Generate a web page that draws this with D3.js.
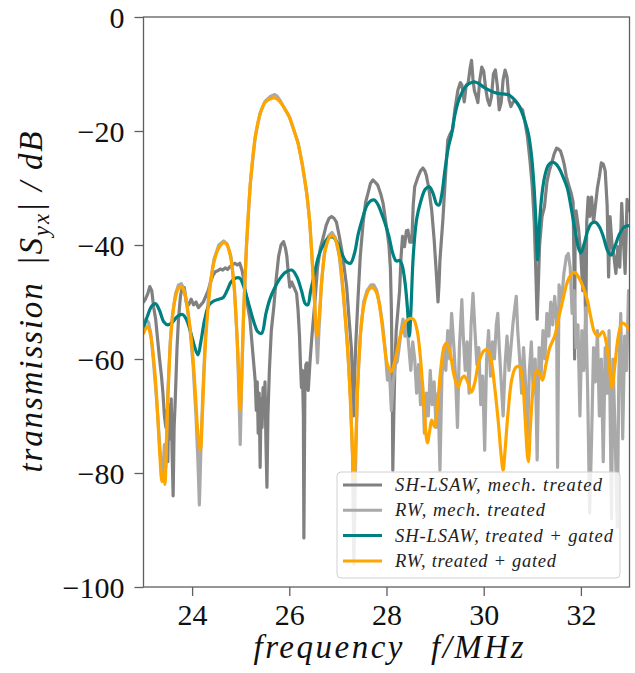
<!DOCTYPE html>
<html>
<head>
<meta charset="utf-8">
<script src="https://cdn.jsdelivr.net/npm/d3@7"></script>
<style>
  body { margin: 0; background: #fff; }
  svg { display: block; }
</style>
</head>
<body>
<svg id="chart" width="635" height="673"></svg>
<script>
// Axis ticks (frequency in MHz, transmission in dB)
const xTicks = [24, 26, 28, 30, 32];
const yTicks = [0, -20, -40, -60, -80, -100];
const legendLabels = [
  "SH-LSAW, mech. treated",
  "RW, mech. treated",
  "SH-LSAW, treated + gated",
  "RW, treated + gated"
];

// SH-LSAW, mechanically treated (measured) — [f, dB]
const shMech = [
  [23.00,-50],[23.04,-49.5],[23.09,-48.5],[23.13,-47.3],[23.17,-48],[23.21,-51],[23.25,-53],[23.29,-56.5],
  [23.33,-60],[23.37,-63],[23.40,-66],[23.43,-70],[23.46,-72],[23.48,-69],[23.50,-78],[23.52,-68],
  [23.55,-74],[23.57,-67],[23.59,-77],[23.61,-84],[23.63,-72],[23.65,-68],[23.67,-63],[23.69,-58],
  [23.72,-53],[23.76,-49],[23.80,-47.3],[23.84,-47.5],[23.88,-50],[23.93,-50.5],[23.98,-49.5],[24.03,-50.5],
  [24.08,-50],[24.13,-51],[24.18,-50.5],[24.23,-50],[24.28,-49],[24.33,-48],[24.38,-46.5],[24.43,-45.3],
  [24.48,-44.7],[24.53,-44.5],[24.58,-44.2],[24.63,-44.4],[24.68,-44],[24.73,-44.3],[24.78,-43.8],[24.83,-43.5],
  [24.88,-43.2],[24.93,-43.5],[24.98,-43.2],[25.03,-44.5],[25.07,-46.5],[25.11,-49],[25.15,-51],[25.19,-53],
  [25.23,-57],[25.27,-61],[25.30,-64],[25.32,-69],[25.34,-64],[25.36,-73],[25.38,-66],[25.40,-79],
  [25.42,-67],[25.44,-72],[25.46,-65],[25.48,-70],[25.50,-64],[25.52,-75],[25.54,-82.5],[25.56,-70],
  [25.59,-62],[25.63,-55],[25.68,-51],[25.73,-46],[25.78,-42],[25.83,-40],[25.88,-39.4],[25.92,-40.5],
  [25.95,-42],[25.98,-45],[26.01,-47.4],[26.05,-46.5],[26.10,-47.5],[26.15,-48.5],[26.18,-51.4],[26.21,-56],
  [26.23,-61],[26.25,-65],[26.27,-62],[26.29,-70],[26.30,-91.4],[26.32,-66],[26.34,-61],[26.36,-60.7],
  [26.39,-65.5],[26.43,-60],[26.47,-55.5],[26.53,-49.6],[26.58,-44],[26.64,-40.5],[26.70,-38.6],[26.76,-36.5],
  [26.82,-35.3],[26.87,-35],[26.92,-35.3],[26.97,-36],[27.03,-38.5],[27.08,-40.9],[27.13,-44],[27.18,-47.3],
  [27.23,-53],[27.28,-58.4],[27.30,-63.7],[27.32,-70],[27.34,-64],[27.37,-57],[27.41,-50],[27.46,-42],
  [27.52,-36],[27.57,-32.5],[27.62,-30.9],[27.67,-29.2],[27.72,-28.6],[27.77,-29],[27.82,-29.5],[27.88,-31],
  [27.93,-32.7],[28.00,-36.8],[28.05,-40],[28.08,-44],[28.10,-51],[28.12,-66],[28.13,-79.5],[28.15,-70],
  [28.17,-62],[28.20,-55],[28.24,-51],[28.27,-48],[28.30,-42],[28.33,-38.5],[28.37,-40.3],[28.41,-37.5],
  [28.44,-37.4],[28.48,-39.5],[28.52,-39.5],[28.55,-33],[28.58,-29.8],[28.65,-28],[28.70,-27],[28.75,-26.5],
  [28.79,-27],[28.82,-27.8],[28.87,-30],[28.93,-33.9],[28.98,-39],[29.03,-45.6],[29.06,-50],[29.08,-47],
  [29.10,-42.6],[29.16,-35.6],[29.22,-27],[29.26,-21.6],[29.31,-20.5],[29.36,-19.8],[29.41,-16],[29.47,-12.8],
  [29.52,-11.5],[29.55,-11.9],[29.60,-14.9],[29.64,-12],[29.68,-11.6],[29.72,-9],[29.75,-7.6],[29.78,-11],
  [29.81,-13],[29.85,-14],[29.88,-15],[29.92,-11],[29.96,-8.8],[30.00,-9.5],[30.04,-12.5],[30.08,-14.5],
  [30.12,-15.5],[30.16,-14],[30.20,-10],[30.24,-9.3],[30.28,-12],[30.32,-16.3],[30.36,-15],[30.40,-11],
  [30.44,-9.3],[30.48,-10.5],[30.52,-14.5],[30.56,-15.7],[30.60,-15],[30.64,-14.6],[30.68,-15],[30.72,-15.5],
  [30.76,-16],[30.80,-16.3],[30.85,-18.5],[30.90,-21],[30.95,-25],[31.00,-29.8],[31.04,-36],[31.07,-43.9],
  [31.10,-53],[31.12,-48],[31.15,-40],[31.20,-35],[31.25,-33.3],[31.30,-29],[31.35,-27],[31.40,-25.6],
  [31.45,-24],[31.50,-23],[31.54,-23.2],[31.58,-23.5],[31.62,-24.6],[31.66,-26],[31.70,-28],[31.75,-29.5],
  [31.80,-30.9],[31.84,-32.5],[31.86,-45],[31.87,-60],[31.88,-40],[31.90,-34],[31.95,-37],[32.00,-42],
  [32.04,-48],[32.07,-40],[32.10,-55],[32.12,-36],[32.15,-31.6],[32.18,-35],[32.22,-31.6],[32.26,-36],
  [32.30,-33],[32.34,-30],[32.38,-28],[32.42,-25.6],[32.46,-25.8],[32.50,-27],[32.54,-33],[32.57,-45.6],
  [32.60,-35],[32.64,-40],[32.68,-42],[32.72,-45],[32.76,-40.3],[32.80,-43.9],[32.84,-32.7],[32.88,-40],
  [32.91,-45],[32.95,-32],[33.00,-34]
];

// RW, mechanically treated (measured) — [f, dB]
const rwMech = [
  [23.00,-54],[23.05,-53],[23.10,-53.5],[23.15,-55.5],[23.20,-60],[23.25,-65],[23.30,-71],[23.35,-77],
  [23.40,-80],[23.43,-75],[23.46,-79],[23.50,-66],[23.55,-57],[23.60,-52],[23.66,-48.5],[23.72,-47],
  [23.78,-46.8],[23.84,-48],[23.90,-51],[23.96,-55],[24.02,-61],[24.08,-70],[24.12,-78],[24.15,-85.6],
  [24.18,-76],[24.22,-66],[24.28,-55],[24.35,-48],[24.45,-42.5],[24.55,-40],[24.65,-39.3],[24.72,-39.8],
  [24.80,-42],[24.87,-47.5],[24.93,-57],[24.97,-68],[24.99,-75],[25.02,-64],[25.06,-52],[25.12,-40],
  [25.20,-29],[25.30,-21],[25.40,-16.8],[25.50,-14.8],[25.60,-14],[25.70,-13.6],[25.75,-13.9],[25.80,-14.5],
  [25.90,-16],[26.00,-17.5],[26.10,-20],[26.18,-22],[26.27,-26],[26.36,-31],[26.42,-36],[26.47,-42.5],
  [26.52,-50],[26.56,-57],[26.58,-60.7],[26.61,-55],[26.66,-47],[26.72,-41.5],[26.80,-38.5],[26.88,-37.8],
  [26.95,-38.8],[27.03,-42],[27.12,-49.5],[27.20,-58],[27.26,-67],[27.30,-77],[27.33,-96],[27.36,-80],
  [27.40,-66],[27.46,-56],[27.53,-50],[27.60,-48],[27.68,-47],[27.74,-47],[27.80,-48],[27.86,-50.5],
  [27.92,-54],[27.97,-58],[28.02,-63.7],[28.06,-62],[28.10,-69],[28.14,-64],[28.18,-61],[28.22,-60.5],
  [28.26,-58],[28.30,-55],[28.34,-53],[28.38,-56],[28.42,-54],[28.46,-58],[28.50,-62],[28.54,-57],
  [28.58,-60],[28.62,-66],[28.66,-61],[28.70,-68],[28.74,-64],[28.78,-73],[28.82,-66],[28.86,-70],
  [28.90,-62],[28.94,-68],[28.98,-64],[29.02,-72],[29.06,-66],[29.10,-79.5],[29.14,-63],[29.18,-58],
  [29.22,-62],[29.26,-55],[29.30,-60],[29.34,-52],[29.38,-57],[29.42,-63],[29.46,-72],[29.50,-58],
  [29.55,-49.6],[29.58,-56],[29.62,-62],[29.66,-57],[29.70,-66],[29.74,-54],[29.78,-48.5],[29.82,-55],
  [29.86,-61],[29.90,-58],[29.94,-68],[29.98,-63],[30.02,-76],[30.06,-60],[30.10,-55],[30.14,-63],
  [30.18,-57],[30.22,-60],[30.26,-54],[30.29,-52],[30.32,-58],[30.36,-64],[30.40,-70],[30.44,-61],
  [30.48,-56],[30.52,-62],[30.56,-58],[30.60,-54],[30.64,-51],[30.67,-49],[30.70,-55],[30.74,-60],
  [30.78,-66],[30.82,-58],[30.86,-64],[30.90,-74],[30.94,-62],[30.98,-57],[31.02,-66],[31.06,-60],
  [31.10,-77.7],[31.14,-58],[31.18,-63],[31.22,-55],[31.26,-60],[31.30,-52],[31.34,-56],[31.38,-50],
  [31.42,-54],[31.46,-49],[31.50,-53],[31.52,-79],[31.55,-47],[31.60,-50],[31.65,-45],[31.70,-42],
  [31.74,-41.5],[31.78,-44],[31.82,-52],[31.86,-48],[31.90,-58],[31.94,-54],[31.98,-70],[32.02,-55],
  [32.06,-62],[32.10,-51],[32.14,-66],[32.18,-87],[32.22,-74],[32.26,-58],[32.30,-64],[32.34,-55],
  [32.38,-70],[32.42,-60],[32.46,-78],[32.50,-58],[32.54,-66],[32.58,-55],[32.63,-88],[32.66,-60],
  [32.70,-72],[32.75,-89.5],[32.78,-63],[32.82,-52],[32.86,-74],[32.90,-56],[32.94,-62],[32.98,-48],
  [33.00,-53]
];

// SH-LSAW, treated and time-gated — [f, dB]
const shGated = [
  [23.00,-54.6],[23.08,-52.5],[23.17,-50.7],[23.25,-50.3],[23.33,-51.5],[23.42,-53.5],[23.50,-54],[23.60,-53.5],
  [23.70,-52.5],[23.80,-52.2],[23.88,-53],[23.96,-55],[24.04,-57.5],[24.12,-59.3],[24.18,-57],[24.26,-53],
  [24.35,-50.5],[24.45,-49.8],[24.55,-49.5],[24.64,-49.2],[24.72,-48],[24.80,-46.5],[24.90,-45.8],[24.98,-45.8],
  [25.07,-47.5],[25.17,-50.5],[25.27,-53.5],[25.35,-55.2],[25.43,-55.5],[25.52,-52],[25.60,-49.5],[25.70,-47.5],
  [25.80,-46],[25.92,-44.8],[26.05,-44.4],[26.15,-45.5],[26.25,-48],[26.33,-50.3],[26.38,-50.5],[26.44,-48],
  [26.52,-45],[26.60,-42],[26.70,-40],[26.80,-38.8],[26.90,-38.6],[26.98,-39.5],[27.08,-41.5],[27.18,-43],
  [27.26,-43.2],[27.34,-41.5],[27.42,-38],[27.50,-35.5],[27.60,-33],[27.68,-32.2],[27.75,-32.1],[27.83,-33],
  [27.90,-34.5],[27.97,-36.2],[28.05,-38.5],[28.13,-41.5],[28.20,-42.8],[28.27,-42.7],[28.32,-43.5],[28.38,-46.5],
  [28.43,-51],[28.47,-56],[28.50,-52],[28.55,-42],[28.62,-35.5],[28.70,-32.5],[28.80,-30.2],[28.88,-29.8],
  [28.96,-31],[29.03,-32.8],[29.08,-33],[29.14,-31],[29.20,-27],[29.27,-23],[29.34,-20.5],[29.40,-17.5],
  [29.47,-15],[29.55,-13.3],[29.65,-12],[29.75,-11.5],[29.82,-11.4],[29.90,-11.7],[30.00,-12.3],[30.08,-12.7],
  [30.18,-13.1],[30.29,-13.4],[30.40,-13.5],[30.50,-13.6],[30.57,-14],[30.65,-14.7],[30.72,-15.5],[30.78,-16.6],
  [30.85,-18.3],[30.92,-20.5],[30.98,-24],[31.03,-29],[31.07,-35],[31.11,-42.6],[31.15,-36],[31.20,-31],
  [31.26,-27.8],[31.33,-26],[31.40,-25.5],[31.46,-25.6],[31.55,-26.5],[31.63,-28],[31.72,-30],[31.80,-33.5],
  [31.88,-37.5],[31.95,-40.5],[32.00,-41.4],[32.06,-40],[32.14,-37.5],[32.22,-36.2],[32.30,-36],[32.38,-36.8],
  [32.46,-38.5],[32.55,-41],[32.62,-41.8],[32.70,-40.2],[32.80,-38],[32.90,-36.8],[33.00,-36.6]
];

// RW, treated and time-gated — [f, dB]
const rwGated = [
  [23.00,-55.5],[23.08,-54.3],[23.15,-56],[23.22,-61],[23.28,-68],[23.33,-76],[23.38,-81.5],[23.41,-80],
  [23.44,-82],[23.47,-75],[23.52,-63],[23.58,-54],[23.65,-49.5],[23.72,-47.6],[23.78,-47.3],[23.85,-48.5],
  [23.92,-52],[24.00,-58],[24.06,-65],[24.12,-73],[24.17,-76],[24.21,-70],[24.27,-58],[24.35,-49],
  [24.45,-43],[24.55,-40.5],[24.65,-39.6],[24.72,-40],[24.80,-42.5],[24.87,-48],[24.93,-57],[24.97,-65],
  [24.99,-69],[25.02,-63],[25.06,-52],[25.12,-40],[25.20,-29],[25.30,-21],[25.40,-17],[25.50,-15],
  [25.60,-14.4],[25.70,-14.2],[25.80,-14.8],[25.90,-16],[26.00,-17.5],[26.10,-20],[26.18,-22.2],[26.27,-26],
  [26.36,-31],[26.42,-36],[26.47,-42.6],[26.52,-50],[26.57,-56],[26.62,-52],[26.68,-45],[26.75,-40.5],
  [26.83,-38.6],[26.90,-38.4],[26.97,-39.5],[27.05,-43],[27.14,-51.4],[27.22,-61],[27.28,-72],[27.33,-81],
  [27.37,-74],[27.42,-62],[27.50,-52.5],[27.58,-49],[27.65,-47.7],[27.72,-47.5],[27.80,-48.5],[27.88,-52],
  [27.95,-57],[28.02,-61],[28.10,-62.2],[28.18,-60],[28.30,-55.5],[28.42,-53.2],[28.55,-53],[28.63,-55],
  [28.70,-60],[28.77,-68],[28.84,-74.7],[28.89,-72.5],[28.93,-70.7],[28.99,-71.9],[29.05,-68],[29.12,-61.5],
  [29.18,-58],[29.23,-57.2],[29.30,-58.5],[29.38,-62.5],[29.47,-65],[29.54,-63.5],[29.60,-63],[29.67,-64],
  [29.75,-65.8],[29.82,-64],[29.90,-60.5],[30.00,-58.6],[30.08,-58.4],[30.15,-60],[30.22,-64.5],[30.30,-71],
  [30.36,-77],[30.40,-79.5],[30.44,-76],[30.50,-69.5],[30.58,-63.5],[30.66,-61.5],[30.74,-61.4],[30.80,-64],
  [30.85,-70],[30.90,-77],[30.92,-78],[30.96,-72],[31.02,-65],[31.09,-62],[31.15,-62.6],[31.21,-63.7],
  [31.28,-61],[31.36,-58],[31.46,-56],[31.55,-52.5],[31.63,-49.6],[31.72,-46.5],[31.80,-45.2],[31.87,-44.8],
  [31.95,-45.6],[32.05,-47.5],[32.13,-49.6],[32.20,-52.5],[32.28,-55.3],[32.36,-56],[32.45,-55.2],[32.53,-57.5],
  [32.58,-61],[32.64,-65],[32.70,-61],[32.77,-56],[32.85,-53.7],[32.92,-54],[33.00,-55]
];

const series = [
  { data: shMech,  color: "#808080", width: 3.2, smooth: false },
  { data: rwMech,  color: "#a9a9a9", width: 3.2, smooth: false },
  { data: shGated, color: "#008080", width: 3.2, smooth: true },
  { data: rwGated, color: "#ffa500", width: 3.2, smooth: true }
];

const svg = d3.select("#chart");
const plot = { left: 143.5, right: 629.5, top: 17, bottom: 587 };

const x = d3.scaleLinear().domain([23, 33]).range([plot.left, plot.right]);
const y = d3.scaleLinear().domain([-100, 0]).range([plot.bottom, plot.top]);

const serif = "'Liberation Serif', 'DejaVu Serif', serif";
const axisColor = "#5f5f5f";

svg.append("defs").append("clipPath").attr("id", "plotClip")
  .append("rect")
  .attr("x", plot.left).attr("y", plot.top)
  .attr("width", plot.right - plot.left).attr("height", plot.bottom - plot.top);

// Data lines: measured traces straight, gated traces smoothed
const lineGroup = svg.append("g").attr("clip-path", "url(#plotClip)");
series.forEach(s => {
  const gen = d3.line()
    .x(d => x(d[0])).y(d => y(d[1]))
    .curve(s.smooth ? d3.curveCatmullRom.alpha(0.5) : d3.curveLinear);
  lineGroup.append("path")
    .attr("d", gen(s.data))
    .attr("fill", "none")
    .attr("stroke", s.color)
    .attr("stroke-width", s.width)
    .attr("stroke-linejoin", "round")
    .attr("stroke-linecap", "round");
});

// Axes
const xAxis = svg.append("g")
  .attr("transform", `translate(0,${plot.bottom})`)
  .call(d3.axisBottom(x).tickValues(xTicks).tickSize(9).tickPadding(8).tickFormat(d3.format("d")));
const yAxis = svg.append("g")
  .attr("transform", `translate(${plot.left},0)`)
  .call(d3.axisLeft(y).tickValues(yTicks).tickSize(9).tickPadding(10).tickFormat(d3.format("d")));

[xAxis, yAxis].forEach(g => {
  g.select(".domain").remove();
  g.selectAll(".tick line").attr("stroke", axisColor).attr("stroke-width", 1.3);
  g.selectAll(".tick text")
    .attr("fill", "#111")
    .style("font-family", serif)
    .style("font-size", "30px");
});
yAxis.selectAll(".tick text").attr("dy", "0.34em");

// Frame
svg.append("rect")
  .attr("x", plot.left).attr("y", plot.top)
  .attr("width", plot.right - plot.left).attr("height", plot.bottom - plot.top)
  .attr("fill", "none").attr("stroke", axisColor).attr("stroke-width", 1.3);

// Axis titles
const xTitle = svg.append("text")
  .attr("x", (plot.left + plot.right) / 2 + 2).attr("y", 658)
  .attr("text-anchor", "middle")
  .style("font-family", serif).style("font-style", "italic").style("font-size", "33px")
  .attr("fill", "#111");
xTitle.append("tspan").text("frequency");
xTitle.append("tspan").attr("dx", 26).text("f/MHz");
xTitle.attr("textLength", 270).attr("lengthAdjust", "spacing");

const yTitle = svg.append("text")
  .attr("transform", `translate(42,${(plot.top + plot.bottom) / 2}) rotate(-90)`)
  .attr("text-anchor", "middle")
  .style("font-family", serif).style("font-style", "italic").style("font-size", "33px")
  .attr("fill", "#111");
yTitle.append("tspan").text("transmission");
yTitle.append("tspan").attr("dx", 16).text("|S");
yTitle.append("tspan").attr("dy", 7).style("font-size", "23px").text("yx");
yTitle.append("tspan").attr("dy", -7).text("|");
yTitle.append("tspan").attr("dx", 10).text("/");
yTitle.append("tspan").attr("dx", 10).text("dB");
yTitle.attr("textLength", 341).attr("lengthAdjust", "spacing");

// Legend
const legend = svg.append("g");
legend.append("rect")
  .attr("x", 337).attr("y", 472).attr("width", 283).attr("height", 106)
  .attr("rx", 4).attr("ry", 4)
  .attr("fill", "#fff").attr("fill-opacity", 0.8)
  .attr("stroke", "#d0d0d0").attr("stroke-width", 1);
const legendWidths = [207, 150, 218, 161];
legendLabels.forEach((label, i) => {
  const yy = 485 + i * 25.3;
  legend.append("line")
    .attr("x1", 343).attr("x2", 382).attr("y1", yy).attr("y2", yy)
    .attr("stroke", series[i].color).attr("stroke-width", 3);
  legend.append("text")
    .attr("x", 395).attr("y", yy + 6)
    .style("font-family", serif).style("font-style", "italic").style("font-size", "18.5px")
    .attr("fill", "#222")
    .attr("textLength", legendWidths[i]).attr("lengthAdjust", "spacing")
    .text(label);
});
</script>
</body>
</html>
